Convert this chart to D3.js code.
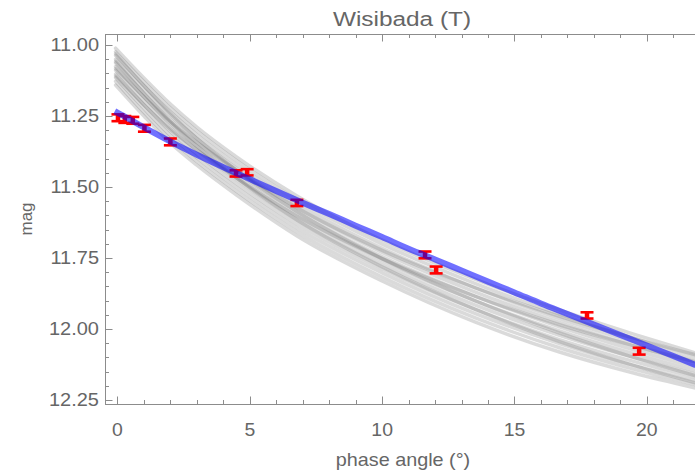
<!DOCTYPE html>
<html>
<head>
<meta charset="utf-8">
<script src="https://cdn.jsdelivr.net/npm/d3@7"></script>
<style>
html,body{margin:0;padding:0;background:#fff;}
svg{display:block;}
text{font-family:"Liberation Sans",Arial,sans-serif;fill:#666;}
</style>
</head>
<body>
<div id="chart"></div>
<script>
// ---------- data ----------
const title = "Wisibada (T)";
const xLabel = "phase angle (°)";
const yLabel = "mag";
const xTicks = [0, 5, 10, 15, 20];
const yTicks = [11.00, 11.25, 11.50, 11.75, 12.00, 12.25];

// observations
const obsPhase = [0.02, 0.28, 0.58, 1.02, 2.0, 4.48, 4.9, 6.78, 11.62, 12.04, 17.74, 19.71];
const obsMag   = [11.256, 11.262, 11.265, 11.293, 11.341, 11.452, 11.448, 11.556, 11.739, 11.792, 11.952, 12.078];
const obsErr   = [0.012, 0.012, 0.012, 0.012, 0.012, 0.011, 0.011, 0.011, 0.012, 0.012, 0.011, 0.012];

// best fit (blue)
const fitPhase = [-0.1, 0, 1, 2, 3, 4, 5, 6, 7, 8, 9, 10, 11, 12, 13, 14, 15, 16, 17, 18, 19, 20, 21, 21.85];
const fitMag   = [11.233, 11.238, 11.290, 11.340, 11.386, 11.430, 11.472, 11.514, 11.555, 11.595, 11.636, 11.676,
                  11.717, 11.755, 11.794, 11.833, 11.871, 11.910, 11.947, 11.984, 12.021, 12.058, 12.095, 12.127];

// sampled model curves (gray)
const samplePhase = [-0.07, 1, 2, 3, 4.5, 6.8, 10, 13.5, 16.7, 19.5, 21.85];
const sampleCurves = [
  [11.011, 11.116, 11.208, 11.289, 11.394, 11.532, 11.687, 11.824, 11.933, 12.018, 12.085],
  [11.024, 11.129, 11.222, 11.302, 11.407, 11.546, 11.701, 11.839, 11.948, 12.032, 12.097],
  [11.037, 11.143, 11.235, 11.316, 11.421, 11.560, 11.716, 11.854, 11.963, 12.045, 12.110],
  [11.050, 11.156, 11.249, 11.329, 11.434, 11.574, 11.730, 11.869, 11.977, 12.059, 12.122],
  [11.063, 11.170, 11.263, 11.343, 11.448, 11.588, 11.745, 11.884, 11.992, 12.073, 12.134],
  [11.076, 11.183, 11.277, 11.356, 11.461, 11.603, 11.759, 11.900, 12.007, 12.087, 12.147],
  [11.089, 11.196, 11.290, 11.369, 11.474, 11.617, 11.773, 11.915, 12.022, 12.100, 12.159],
  [11.102, 11.210, 11.304, 11.383, 11.488, 11.631, 11.788, 11.930, 12.037, 12.114, 12.171],
  [11.115, 11.223, 11.318, 11.396, 11.501, 11.645, 11.802, 11.945, 12.051, 12.128, 12.183],
  [11.128, 11.237, 11.331, 11.410, 11.515, 11.659, 11.817, 11.960, 12.066, 12.141, 12.196],
  [11.141, 11.250, 11.345, 11.423, 11.528, 11.673, 11.831, 11.975, 12.081, 12.155, 12.208],
  [11.031, 11.143, 11.242, 11.329, 11.441, 11.588, 11.752, 11.900, 12.014, 12.100, 12.165],
  [11.109, 11.210, 11.297, 11.369, 11.468, 11.603, 11.752, 11.884, 11.985, 12.059, 12.116],
  [11.057, 11.170, 11.270, 11.356, 11.468, 11.617, 11.781, 11.930, 12.044, 12.128, 12.190],
  [11.083, 11.183, 11.270, 11.343, 11.441, 11.574, 11.723, 11.854, 11.955, 12.032, 12.091]
];

// ---------- layout ----------
const W = 695, H = 474;
const L = 105, R = 695, T = 34, B = 404;

const svg = d3.select("#chart").append("svg").attr("width", W).attr("height", H);

const x = d3.scaleLinear().domain([-0.47, 21.82]).range([L, R]);
const y = d3.scaleLinear().domain([10.961, 12.264]).range([T, B]);

svg.append("defs").append("clipPath").attr("id", "clip")
  .append("rect").attr("x", L).attr("y", T).attr("width", R - L).attr("height", B - T);

const plot = svg.append("g").attr("clip-path", "url(#clip)");

const line = d3.line().curve(d3.curveMonotoneX);

// gray model curves
plot.append("g").selectAll("path").data(sampleCurves).join("path")
  .attr("d", c => line(c.map((m, i) => [x(samplePhase[i]), y(m)])))
  .attr("fill", "none").attr("stroke", "#666666").attr("stroke-width", 3.5)
  .attr("stroke-opacity", 0.24).attr("stroke-linecap", "round");

// observations with error bars
const obs = obsPhase.map((p, i) => ({p, m: obsMag[i], e: obsErr[i]}));
const eb = plot.append("g").selectAll("g").data(obs).join("g");
eb.append("line")
  .attr("x1", d => x(d.p)).attr("x2", d => x(d.p))
  .attr("y1", d => y(d.m - d.e)).attr("y2", d => y(d.m + d.e))
  .attr("stroke", "#ff0000").attr("stroke-width", 4.5);
eb.append("line")
  .attr("x1", d => x(d.p) - 6.5).attr("x2", d => x(d.p) + 6.5)
  .attr("y1", d => y(d.m - d.e)).attr("y2", d => y(d.m - d.e))
  .attr("stroke", "#ff0000").attr("stroke-width", 2.6);
eb.append("line")
  .attr("x1", d => x(d.p) - 6.5).attr("x2", d => x(d.p) + 6.5)
  .attr("y1", d => y(d.m + d.e)).attr("y2", d => y(d.m + d.e))
  .attr("stroke", "#ff0000").attr("stroke-width", 2.6);

// best fit line
plot.append("path")
  .attr("d", line(fitPhase.map((p, i) => [x(p), y(fitMag[i])])))
  .attr("fill", "none").attr("stroke", "#0000ff").attr("stroke-width", 6)
  .attr("stroke-opacity", 0.56);

// ---------- axes / frame ----------
const axisColor = "#8c8c8c";
const xMinor = d3.range(0, 22, 1);
const yMinor = d3.range(0, 27).map(i => +(11.0 + i * 0.05).toFixed(2)).filter(v => v <= 12.26);

const axisG = svg.append("g");
function axisLine(x1, y1, x2, y2) {
  axisG.append("line").attr("x1", x1).attr("y1", y1).attr("x2", x2).attr("y2", y2)
    .attr("stroke", axisColor).attr("stroke-width", 1);
}
axisLine(L, B + 0.5, R, B + 0.5);
axisLine(L, T + 0.5, R, T + 0.5);
axisLine(L + 0.5, T, L + 0.5, B + 0.5);

const isMajorX = v => xTicks.includes(v);
xMinor.forEach(v => {
  const len = isMajorX(v) ? 7.5 : 4;
  const px = Math.round(x(v)) + 0.5;
  axisLine(px, B, px, B - len);
  axisLine(px, T, px, T + len);
});
const isMajorY = v => yTicks.some(t => Math.abs(t - v) < 1e-6);
yMinor.forEach(v => {
  const len = isMajorY(v) ? 7.5 : 4;
  const py = Math.round(y(v)) + 0.5;
  axisLine(L, py, L + len, py);
});

// tick labels
svg.append("g").selectAll("text").data(yTicks).join("text")
  .attr("transform", d => `translate(99,${y(d)}) scale(1.08,1)`)
  .attr("text-anchor", "end").attr("dominant-baseline", "central")
  .attr("font-size", 18.5).text(d => d.toFixed(2));

svg.append("g").selectAll("text").data(xTicks).join("text")
  .attr("transform", d => `translate(${x(d)},430) scale(1.05,1)`)
  .attr("text-anchor", "middle").attr("dominant-baseline", "central")
  .attr("font-size", 18.5).text(d => d);

// titles
svg.append("text").attr("transform", "translate(402,19) scale(1.25,1)")
  .attr("text-anchor", "middle").attr("dominant-baseline", "central")
  .attr("font-size", 19.5).text(title);

svg.append("text").attr("transform", "translate(403,460) scale(1.1,1)")
  .attr("text-anchor", "middle").attr("dominant-baseline", "central")
  .attr("font-size", 18).text(xLabel);

svg.append("text").attr("transform", "translate(26,219) rotate(-90)")
  .attr("text-anchor", "middle").attr("dominant-baseline", "central")
  .attr("font-size", 17).text(yLabel);
</script>
</body>
</html>
